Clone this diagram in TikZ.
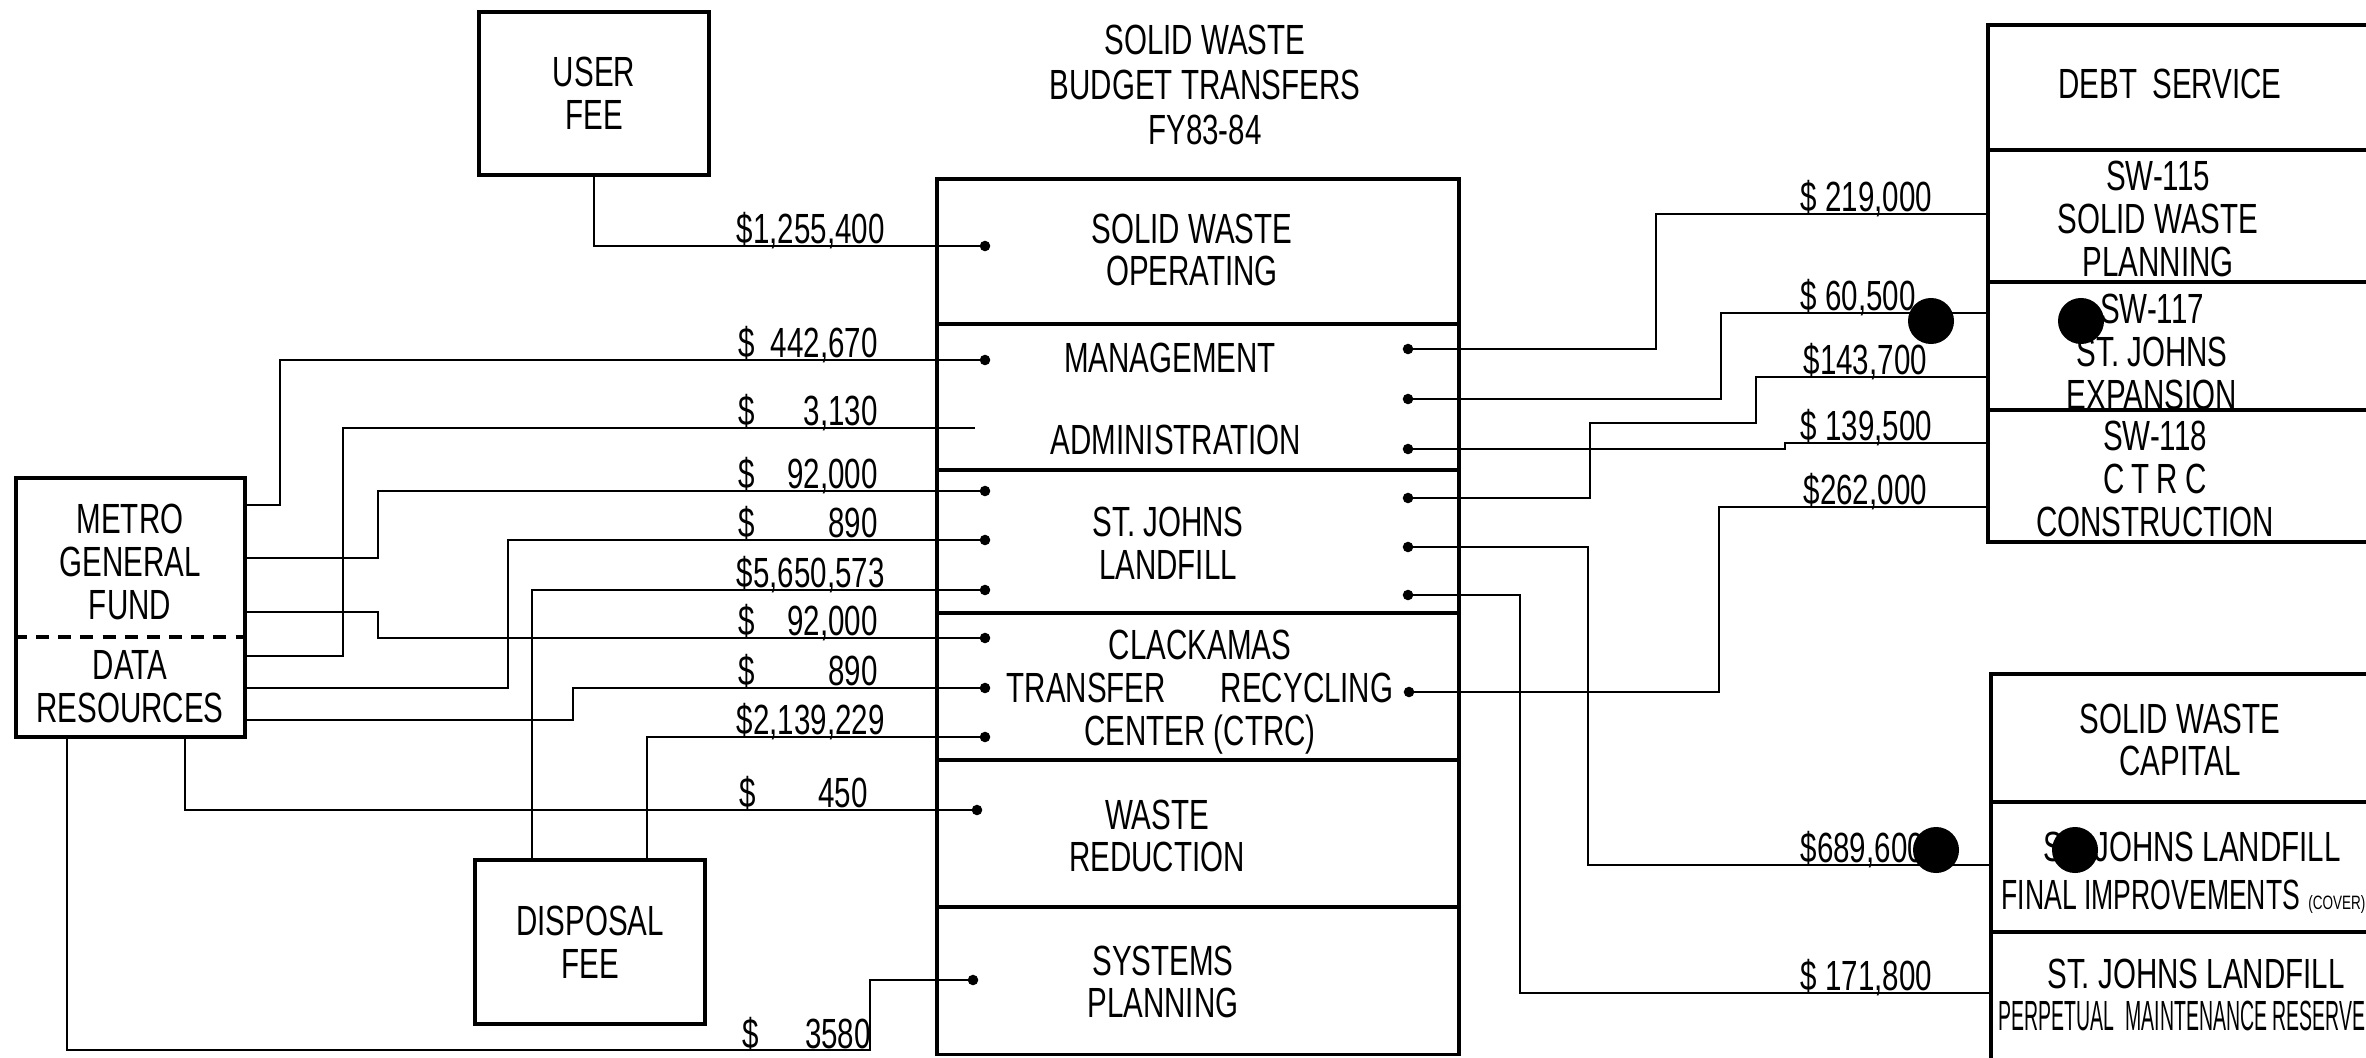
\documentclass[tikz,border=0pt]{standalone}
\usepackage{fontspec}
\setmainfont[FakeStretch=0.7]{Liberation Sans}
\newcommand{\lettering}{\fontsize{12}{12.2}\selectfont}
\newcommand{\amount}[2][1.39cm]{\hbox to #1{\$\hfil#2}}
\tikzset{
  frame/.style={draw,line width=1.1pt,inner sep=0pt,anchor=north west},
  wire/.style={line width=0.8pt},
  lbl/.style={align=center,inner sep=0pt,font=\lettering},
  amt/.style={anchor=base west,inner sep=0pt,font=\lettering},
  blot/.style={fill=black}
}

\begin{document}
\begin{tikzpicture}[x=0.01cm,y=-0.01cm]
  \useasboundingbox (0,0) rectangle (2366,1057);
  \fill[white] (0,0) rectangle (2366,1057);
  \clip (0,0) rectangle (2366,1057);

  \node[lbl,font=\fontsize{12}{12.8}\selectfont] (title) at (1205,85) {SOLID WASTE\\BUDGET TRANSFERS\\FY83-84};

  \node[frame,lbl,minimum width=2.3cm,minimum height=1.63cm] (userfee) at (477,10) {USER\\FEE};
  \node[frame,minimum width=2.29cm,minimum height=2.59cm] (metro) at (14,476) {};
  \node[lbl] (metrogf) at (130,562) {METRO\\GENERAL\\FUND};
  \node[lbl] (metrodr) at (130,687) {DATA\\RESOURCES};
  \draw[line width=1.2pt,dash pattern=on 3.7pt off 2.6pt] (metro.west |- 0,637) -- (metro.east |- 0,637);
  \node[frame,lbl,minimum width=2.3cm,minimum height=1.64cm] (disposal) at (473,858) {DISPOSAL\\FEE};

  \node[frame,minimum width=5.22cm,minimum height=8.75cm] (swfund) at (935,177) {};
  \foreach \y in {324,470,613,760,907}
    \draw[line width=1pt] (swfund.west |- 0,\y) -- (swfund.east |- 0,\y);
  \node[lbl] (oper) at (1192,250) {SOLID WASTE\\OPERATING};
  \node[lbl] (mgmt) at (1170,358) {MANAGEMENT};
  \node[lbl] (admin) at (1176,440) {ADMINISTRATION};
  \node[lbl] (stjohns) at (1168,543) {ST. JOHNS\\LANDFILL};
  \node[lbl] (ctrc) at (1200,692) {CLACKAMAS\\TRANSFER\hspace{0.55cm}RECYCLING\\CENTER (CTRC)};
  \node[lbl] (wred) at (1157,836) {WASTE\\REDUCTION};
  \node[lbl] (splan) at (1163,982) {SYSTEMS\\PLANNING};

  \node[frame,minimum width=5cm,minimum height=5.17cm] (debt) at (1986,23) {};
  \foreach \y in {150,282,410}
    \draw[line width=1pt] (debt.west |- 0,\y) -- (debt.east |- 0,\y);
  \node[lbl] (dserv) at (2170,84) {DEBT\hspace{0.15cm}SERVICE};
  \node[lbl] (sw115) at (2158,219) {SW-115\\SOLID WASTE\\PLANNING};
  \node[lbl] (sw117) at (2152,352) {SW-117\\ST. JOHNS\\EXPANSION};
  \node[lbl] (sw118) at (2155,479) {SW-118\\C\,T\,R\,C\\CONSTRUCTION};

  \node[frame,minimum width=5cm,minimum height=5cm] (capital) at (1989,672) {};
  \foreach \y in {802,932}
    \draw[line width=1pt] (capital.west |- 0,\y) -- (capital.east |- 0,\y);
  \node[lbl] (swcap) at (2180,740) {SOLID WASTE\\CAPITAL};
  \node[lbl] (cover) at (2192,847) {ST. JOHNS LANDFILL};
  \node[lbl,anchor=west] (final) at (2001,897) {\scalebox{0.9}[1]{FINAL IMPROVEMENTS} {\fontsize{5.5}{6}\selectfont(COVER)}};
  \node[lbl] (reserve) at (2196,974) {ST. JOHNS LANDFILL};
  \node[lbl,anchor=west] (perpetual) at (1998,1016) {\scalebox{0.66}[1]{PERPETUAL\ \ MAINTENANCE RESERVE}};

  \coordinate (in0) at (985,246);
  \coordinate (in1) at (985,360);
  \coordinate (stub) at (975,428);
  \coordinate (in2) at (985,491);
  \coordinate (in3) at (985,540);
  \coordinate (in4) at (985,590);
  \coordinate (in5) at (985,638);
  \coordinate (in6) at (985,688);
  \coordinate (in7) at (985,737);
  \coordinate (in8) at (977,810);
  \coordinate (in9) at (973,980);
  \coordinate (out1) at (1408,349);
  \coordinate (out2) at (1408,399);
  \coordinate (out3) at (1408,449);
  \coordinate (out4) at (1408,498);
  \coordinate (out5) at (1408,547);
  \coordinate (out6) at (1408,595);
  \coordinate (out7) at (1409,692);

  \draw[wire] (userfee.south) |- (in0);
  \draw[wire] (metro.east |- 0,505) -| (280,360) -- (in1);
  \draw[wire] (metro.east |- 0,558) -| (378,491) -- (in2);
  \draw[wire] (metro.east |- 0,612) -| (378,638) -- (in5);
  \draw[wire] (metro.east |- 0,656) -| (343,428) -- (stub);
  \draw[wire] (metro.east |- 0,688) -| (508,540) -- (in3);
  \draw[wire] (metro.east |- 0,720) -| (573,688) -- (in6);
  \draw[wire] (metro.south -| 185,0) |- (in8);
  \draw[wire] (metro.south -| 67,0) |- (870,1050) |- (in9);
  \draw[wire] (disposal.north -| 532,0) |- (in4);
  \draw[wire] (disposal.north -| 647,0) |- (in7);

  \draw[wire] (out1) -| (1656,214) -- (debt.west |- 0,214);
  \draw[wire] (out2) -| (1721,313) -- (debt.west |- 0,313);
  \draw[wire] (out3) -| (1785,443) -- (debt.west |- 0,443);
  \draw[wire] (out4) -| (1590,423) -| (1756,377) -- (debt.west |- 0,377);
  \draw[wire] (out7) -| (1719,507) -- (debt.west |- 0,507);
  \draw[wire] (out5) -| (1588,865) -- (capital.west |- 0,865);
  \draw[wire] (out6) -| (1520,993) -- (capital.west |- 0,993);

  \foreach \d in {in0,in1,in2,in3,in4,in5,in6,in7,in8,in9,out1,out2,out3,out4,out5,out6,out7}
    \fill (\d) circle (1.5pt);

  \node[amt] (a0) at (736,243) {\$1,255,400};
  \node[amt] (a1) at (738,357) {\amount{442,670}};
  \node[amt] (a2) at (738,425) {\amount{3,130}};
  \node[amt] (a3) at (738,488) {\amount{92,000}};
  \node[amt] (a4) at (738,537) {\amount{890}};
  \node[amt] (a5) at (736,587) {\$5,650,573};
  \node[amt] (a6) at (738,635) {\amount{92,000}};
  \node[amt] (a7) at (738,685) {\amount{890}};
  \node[amt] (a8) at (736,734) {\$2,139,229};
  \node[amt] (a9) at (739,807) {\amount[1.28cm]{450}};
  \node[amt] (a10) at (742,1048) {\amount[1.28cm]{3580}};

  \node[amt] (b1) at (1800,211) {\$ 219,000};
  \node[amt] (b2) at (1800,310) {\$ 60,500};
  \node[amt] (b3) at (1803,374) {\$143,700};
  \node[amt] (b4) at (1800,440) {\$ 139,500};
  \node[amt] (b5) at (1803,504) {\$262,000};
  \node[amt] (b6) at (1800,862) {\$689,600};
  \node[amt] (b7) at (1800,990) {\$ 171,800};

  \fill[blot] (1931,321) circle (0.23cm);
  \fill[blot] (2081,321) circle (0.23cm);
  \fill[blot] (1936,850) circle (0.23cm);
  \fill[blot] (2075,850) circle (0.23cm);
\end{tikzpicture}
\end{document}
